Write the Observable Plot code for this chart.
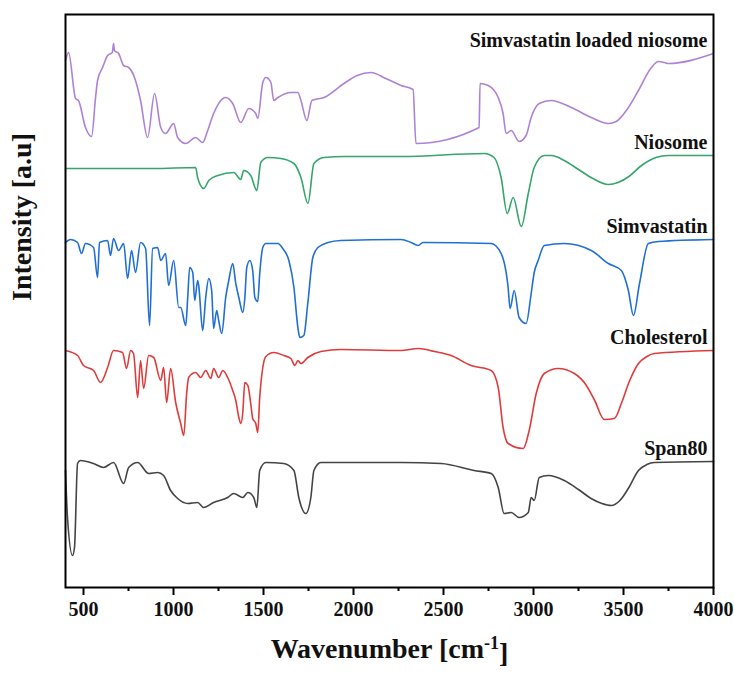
<!DOCTYPE html>
<html>
<head>
<meta charset="utf-8">
<script src="https://cdn.jsdelivr.net/npm/d3@7"></script>
<script src="https://cdn.jsdelivr.net/npm/@observablehq/plot@0.6"></script>
<style>
  html, body { margin: 0; padding: 0; background: #fff; }
  #chart svg { display: block; }
</style>
</head>
<body>
<div id="chart"></div>
<script>
// Wavenumber [cm-1], intensity [a.u.] (arbitrary, stacked)
const simLoadedNiosome = [
  [400,527],[417,535],[456,489],[472,487],[511,460],[545,451],[567,490],[578,507],[606,520],[634,532],
  [660,535],[667,544],[672,537],[695,534],[723,522],[751,520],[789,507],[817,487],[856,450],[895,494],
  [929,460],[956,454],[1001,464],[1023,450],[1068,444],[1123,450],[1162,445],[1190,457],[1223,474],[1290,490],
  [1329,484],[1374,465],[1418,479],[1457,474],[1468,469],[1496,505],[1513,510],[1541,505],[1557,487],[1580,490],
  [1652,495],[1691,495],[1708,487],[1741,467],[1769,487],[1836,490],[1947,504],[2020,512],[2097,515],[2180,509],
  [2264,502],[2331,498],[2347,444],[2698,460],[2703,504],[2748,502],[2804,490],[2831,474],[2848,454],[2876,457],
  [2920,446],[2959,452],[2987,470],[3032,484],[3098,487],[3210,480],[3321,470],[3416,464],[3460,466],[3520,478],
  [3583,497],[3655,520],[3694,526],[3727,525],[3750,524],[4000,534]
];
const niosome = [
  [400,419],[890,419],[1123,420],[1134,410],[1168,399],[1196,407],[1246,412],[1335,415],[1374,408],[1390,417],
  [1429,412],[1463,397],[1485,425],[1524,430],[1596,429],[1669,424],[1708,410],[1747,384],[1780,424],[1836,430],
  [1947,431],[2264,431],[2726,434],[2781,430],[2820,410],[2854,374],[2887,390],[2932,361],[2971,394],[3004,420],
  [3060,432],[3100,432],[3171,427],[3250,418],[3330,409],[3416,403],[3470,405],[3530,411],[3600,422],[3680,430],
  [3750,432],[4000,432]
];
const simvastatin = [
  [400,345],[428,348],[467,345],[489,334],[511,344],[556,340],[578,310],[589,345],[634,347],[650,332],
  [667,349],[695,337],[723,344],[745,309],[767,337],[789,315],[817,345],[845,339],[867,262],[884,339],
  [912,340],[929,327],[956,334],[973,302],[1001,327],[1029,280],[1040,280],[1068,262],[1079,290],[1090,320],
  [1107,315],[1118,287],[1134,307],[1140,302],[1162,257],[1179,290],[1196,309],[1212,297],[1223,259],[1240,277],
  [1251,267],[1268,254],[1290,290],[1307,307],[1329,324],[1346,304],[1363,290],[1385,275],[1396,289],[1407,320],
  [1424,327],[1440,317],[1452,290],[1468,286],[1479,314],[1496,340],[1513,344],[1580,344],[1607,339],[1641,327],
  [1669,300],[1691,260],[1702,250],[1724,252],[1746,284],[1774,330],[1802,340],[1858,345],[1930,347],[2264,348],
  [2320,345],[2359,342],[2386,345],[2765,344],[2820,334],[2859,300],[2870,279],[2893,297],[2920,270],[2959,264],
  [2987,294],[3004,315],[3026,327],[3060,342],[3171,344],[3321,337],[3416,324],[3488,317],[3527,297],[3555,272],
  [3589,304],[3638,344],[3694,346],[4000,348]
];
const cholesterol = [
  [400,237],[467,232],[500,222],[556,217],[595,205],[634,220],[667,237],[717,235],[739,219],[762,237],
  [778,234],[801,190],[817,227],[834,199],[862,232],[890,230],[929,207],[945,220],[962,185],[984,219],
  [1012,185],[1040,164],[1057,152],[1073,194],[1084,210],[1123,215],[1151,210],[1179,217],[1207,209],[1223,219],
  [1251,210],[1274,217],[1301,210],[1329,197],[1346,187],[1363,170],[1374,164],[1385,175],[1396,205],[1413,202],
  [1429,184],[1440,169],[1457,164],[1468,155],[1479,190],[1496,220],[1513,231],[1557,235],[1613,232],[1652,229],
  [1674,222],[1691,227],[1708,224],[1746,230],[1819,236],[1930,238],[2264,237],[2359,239],[2450,236],[2542,232],
  [2653,222],[2765,217],[2804,200],[2831,160],[2859,144],[2943,139],[2976,157],[3015,194],[3060,214],[3137,219],
  [3227,214],[3290,203],[3340,187],[3393,168],[3449,169],[3490,185],[3530,205],[3583,224],[3630,231],[3672,234],
  [4000,237]
];
const span80 = [
  [400,117],[411,70],[439,32],[450,40],[467,124],[483,127],[556,124],[611,120],[667,125],[723,104],
  [751,120],[801,125],[862,114],[912,115],[945,112],[984,97],[1023,89],[1079,84],[1134,85],[1168,80],
  [1223,85],[1301,90],[1335,94],[1385,90],[1413,95],[1446,90],[1463,80],[1479,117],[1513,125],[1613,124],
  [1669,117],[1696,90],[1735,74],[1763,90],[1780,117],[1819,125],[2264,125],[2487,124],[2670,117],[2765,114],
  [2804,100],[2837,74],[2876,75],[2920,70],[2971,75],[2987,90],[3004,87],[3032,110],[3082,112],[3171,107],
  [3250,98],[3320,89],[3380,84],[3432,82],[3480,87],[3530,100],[3583,117],[3630,123],[3672,125],[4000,126]
];

const seriesNames = ["Simvastatin loaded niosome", "Niosome", "Simvastatin", "Cholesterol", "Span80"];
const seriesData = [simLoadedNiosome, niosome, simvastatin, cholesterol, span80];
const seriesColors = ["#ad82d6", "#35a56c", "#1f6fd4", "#e03b3b", "#444444"];
const majorTicks = [500, 1000, 1500, 2000, 2500, 3000, 3500, 4000];
const minorTicks = [750, 1250, 1750, 2250, 2750, 3250, 3750];
const xTitle = "Wavenumber [cm-1]";
const yTitle = "Intensity [a.u]";

const font = "'Liberation Serif', 'Times New Roman', serif";

const labels = seriesNames.map((n, i) => ({name: n, x: 4000, y: seriesData[i][seriesData[i].length - 1][1]}));

const marks = [];
seriesData.forEach((s, i) => {
  marks.push(Plot.line(s, {x: d => d[0], y: d => d[1], stroke: seriesColors[i], strokeWidth: 1.6, curve: "monotone-x"}));
});
marks.push(Plot.text(labels, {x: "x", y: "y", text: "name", textAnchor: "end", dx: -6, dy: -13,
  fontSize: 20, fontWeight: "bold", fill: "#111"}));
marks.push(Plot.axisX({ticks: minorTicks, tickSize: 4, strokeWidth: 2, tickFormat: () => "", label: null}));
marks.push(Plot.axisX({ticks: majorTicks, tickSize: 8, strokeWidth: 2, tickPadding: 6, tickFormat: d => String(d),
  fontSize: 20, fontWeight: "bold", fill: "#111", label: null}));
marks.push(Plot.frame({stroke: "#000", strokeWidth: 2}));
marks.push(Plot.text([xTitle], {frameAnchor: "bottom", dy: 70, fontSize: 28, fontWeight: "bold", fill: "#111"}));
marks.push(Plot.text([yTitle], {frameAnchor: "left", dx: -43, rotate: -90, fontSize: 28, fontWeight: "bold", fill: "#111"}));

const chart = Plot.plot({
  width: 734,
  height: 675,
  marginLeft: 65,
  marginRight: 21,
  marginTop: 14,
  marginBottom: 88,
  style: {fontFamily: font, background: "#fff"},
  x: {domain: [400, 4000], axis: null},
  y: {domain: [0, 573], axis: null},
  marks
});

// superscript for cm-1
d3.select(chart).selectAll("text").each(function() {
  if (this.textContent === xTitle) {
    const t = d3.select(this);
    t.text(null);
    t.append("tspan").text("Wavenumber [cm");
    t.append("tspan").attr("dy", "-0.45em").attr("font-size", "18").text("-1");
    t.append("tspan").attr("dy", "0.45em").text("]");
  }
});

document.getElementById("chart").appendChild(chart);
</script>
</body>
</html>
